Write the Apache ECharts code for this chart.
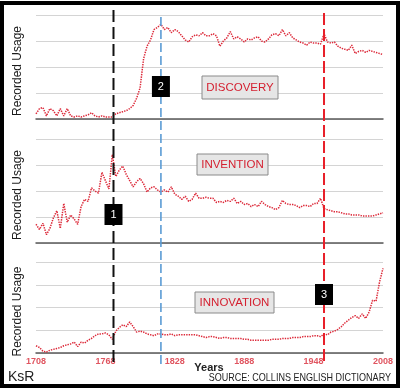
<!DOCTYPE html>
<html><head><meta charset="utf-8">
<script src="https://cdn.jsdelivr.net/npm/echarts@6/dist/echarts.min.js"></script>
<style>html,body{margin:0;padding:0;background:#fff}#c{width:400px;height:392px}</style>
</head><body><div id="c"></div>
<script>
const years = [1708,1711,1714,1717,1720,1723,1726,1729,1732,1735,1738,1741,1744,1747,1750,1753,1756,1759,1762,1765,
1768,1771,1774,1777,1780,1783,1786,1789,1792,1795,1798,1801,1804,1807,1810,1813,1816,1819,1822,1825,
1828,1831,1834,1837,1840,1843,1846,1849,1852,1855,1858,1861,1864,1867,1870,1873,1876,1879,1882,1885,
1888,1891,1894,1897,1900,1903,1906,1909,1912,1915,1918,1921,1924,1927,1930,1933,1936,1939,1942,1945,
1948,1951,1954,1957,1960,1963,1966,1969,1972,1975,1978,1981,1984,1987,1990,1993,1996,1999,2002,2005,2008];

const discovery = [5,10,11,3,10,8,3,10,3,10, 3,2,3,2,3,4,6,3,2,3,
2,2,2,5,6,7,8,10,13,20, 30,58,70,76,86,88,91,86,88,83,
86,84,80,76,74,79,81,80,83,80, 80,82,80,70,75,78,84,77,79,77,
74,77,76,78,79,75,74,77,81,82, 80,86,80,83,78,76,74,73,71,74,
73,73,72,82,74,73,74,70,68,67, 66,71,63,65,66,64,66,65,64,63,62];

const invention = [18,13,19,8,14,24,31,14,38,20, 27,23,18,35,42,40,53,50,48,68,
60,52,85,64,70,74,66,60,54,59, 62,57,49,53,54,51,49,51,49,54,
47,45,42,45,40,42,48,43,43,44, 43,43,39,40,39,41,40,43,38,40,
37,38,35,37,35,40,37,35,34,32, 34,41,38,37,37,36,34,36,36,35,
38,38,43,33,32,31,30,30,29,28, 28,27,27,27,26,26,26,26,27,28,29];

const innovation = [8,6,2,1,3,4,5,6,8,9, 10,12,7,12,11,14,16,19,21,21,
22,20,15,24,28,31,29,34,29,23, 24,23,21,20,19,21,21,20,20,21,
19,20,20,20,20,20,20,19,18,17, 18,18,17,16,17,17,16,16,16,16,
15,15,14,14,14,14,14,14,15,15, 15,16,16,16,17,17,17,18,18,18,
19,19,18,21,20,23,24,26,29,33, 36,39,41,38,43,38,45,58,57,78,93];

const xTicks = [1708,1768,1828,1888,1948,2008];
const panelNames = ['DISCOVERY','INVENTION','INNOVATION'];
const eventYears = [1775,1816,1957];
const eventLabels = ['1','2','3'];

const seriesList = [discovery, invention, innovation];
const grids = [
  {left:36, width:347, top:15, height:104},
  {left:36, width:347, top:139, height:104},
  {left:36, width:347, top:262, height:91}
];
const FONT = '"Liberation Sans", Arial, sans-serif';
const RED = '#dc2838';

const chart = echarts.init(document.getElementById('c'), null, {renderer:'canvas'});
const option = {
  animation:false,
  backgroundColor:'#fff',
  grid: grids,
  xAxis: grids.map((g,i)=>({
    type:'value', gridIndex:i, min:1708, max:2008,
    axisLine:{show:true, onZero:false, lineStyle:{color:'#5a5a5a', width:1.5}},
    axisTick:{show:false},
    splitLine:{show:false},
    axisLabel: i===2 ? {show:true, customValues:xTicks, formatter:v=>String(v), color:'#e05560', fontWeight:'bold', fontSize:9, fontFamily:FONT, margin:4} : {show:false}
  })),
  yAxis: grids.map((g,i)=>({
    type:'value', gridIndex:i, min:0, max:100, interval:25,
    axisLine:{show:false}, axisTick:{show:false}, axisLabel:{show:false},
    splitLine:{show:true, lineStyle:{color:'#d4d4d4', width:1}},
    name:'Recorded Usage', nameLocation:'middle', nameGap:12, nameRotate:90,
    nameTextStyle:{fontSize:12, color:'#1a1a1a', fontFamily:FONT, padding:[0,0,0,-8]}
  })),
  series: seriesList.map((vals,i)=>({
    type:'line', xAxisIndex:i, yAxisIndex:i, showSymbol:false, symbol:'none',
    data: years.map((y,k)=>[y, vals[k]]),
    lineStyle:{color:RED, width:1.5, type:[1.4,1.1]}
  }))
};
chart.setOption(option);

const lineSpec = [
  {color:'#111', width:2, dash:[12,5], top:10},
  {color:'#5b9bd5', width:1.6, dash:[9,4], top:17},
  {color:'#e8202a', width:2, dash:[12,4], top:13}
];
const boxY = [204, 76, 284];
const graphics = [];
graphics.push({type:'rect', shape:{x:2,y:3,width:396,height:383}, style:{fill:null, stroke:'#000', lineWidth:4}, z:20});
eventYears.forEach((yr,i)=>{
  const px = chart.convertToPixel({xAxisIndex:2}, yr);
  graphics.push({type:'line', shape:{x1:px,y1:lineSpec[i].top,x2:px,y2:364},
    style:{stroke:lineSpec[i].color, lineWidth:lineSpec[i].width, lineDash:lineSpec[i].dash}, z:10});
  graphics.push({type:'rect', shape:{x:px-9,y:boxY[i],width:18,height:21}, style:{fill:'#000'}, z:12});
  graphics.push({type:'text', x:px, y:boxY[i]+10.5, style:{text:eventLabels[i], fill:'#fff', font:'11px '+FONT, textAlign:'center', textVerticalAlign:'middle'}, z:13});
});
const nameBoxes = [
  {x:202,y:76,w:76,h:23},
  {x:197,y:154,w:71,h:21},
  {x:195,y:292,w:79,h:21}
];
panelNames.forEach((n,i)=>{
  const b = nameBoxes[i];
  graphics.push({type:'rect', shape:{x:b.x,y:b.y,width:b.w,height:b.h}, style:{fill:'#e6e6e6', stroke:'#8a8a8a', lineWidth:1}, z:12});
  graphics.push({type:'text', x:b.x+b.w/2, y:b.y+b.h/2+0.5, style:{text:n, fill:'#d42030', font:'11.5px '+FONT, textAlign:'center', textVerticalAlign:'middle'}, z:13});
});
graphics.push({type:'text', x:209, y:368, style:{text:'Years', fill:'#222', font:'bold 11px '+FONT, textAlign:'center', textVerticalAlign:'middle'}, z:13});
graphics.push({type:'text', x:8, y:377, style:{text:'KsR', fill:'#222', font:'14px '+FONT, textAlign:'left', textVerticalAlign:'middle'}, z:13});
graphics.push({type:'text', x:391, y:378, scaleX:0.82, style:{text:'SOURCE: COLLINS ENGLISH DICTIONARY', fill:'#222', font:'11px '+FONT, textAlign:'right', textVerticalAlign:'middle'}, z:13});
chart.setOption({graphic:graphics});
</script>
</body></html>
